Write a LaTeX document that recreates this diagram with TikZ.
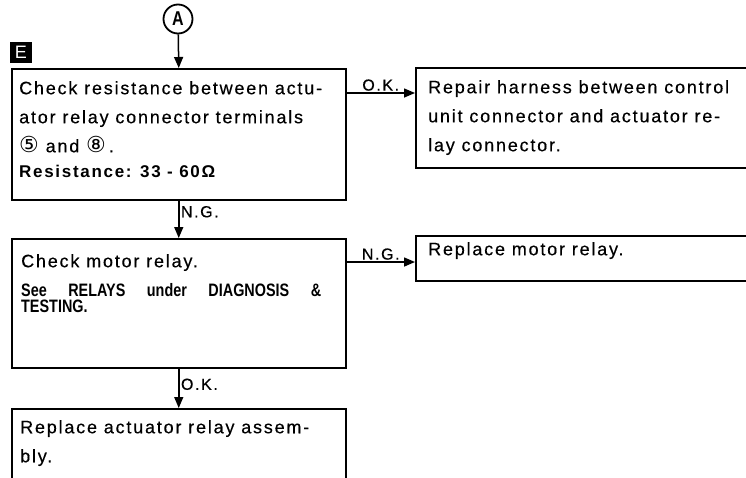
\documentclass[tikz,border=0pt]{standalone}
\usepackage{fontspec}
\usetikzlibrary{arrows.meta, positioning}
\setmainfont{Liberation Sans}
\newfontfamily\manfont[LetterSpace=10, FakeBold=0.4]{Liberation Sans}
\newfontfamily\specfont[LetterSpace=10]{Liberation Sans}
\newfontfamily\narrowfont[FakeStretch=0.8]{Liberation Sans}
\newfontfamily\symfont{DejaVu Sans}

\tikzset{
  box/.style={draw, line width=1.5pt, inner sep=0pt, anchor=north west},
  txt/.style={inner sep=0pt, align=left, font=\manfont\fontsize{18}{29}\selectfont},
  lbl/.style={inner sep=1.5pt, font=\manfont\fontsize{16}{18}\selectfont},
  arr/.style={line width=1.5pt, -{Triangle[length=11pt,width=9pt]}},
}

\begin{document}
\begin{tikzpicture}[x=1pt, y=-1pt]
  \clip (0,0) rectangle (746,477);
  \useasboundingbox (0,0) rectangle (746,477);

  % start mark and step letter
  \node[circle, draw, line width=1.8pt, minimum size=29pt, inner sep=0pt,
        font=\narrowfont\bfseries\fontsize{20}{20}\selectfont] (A) at (178,19) {A};
  \node[fill=black, text=white, minimum width=22pt, minimum height=21pt, inner sep=0pt,
        font=\fontsize{18}{18}\selectfont] (E) at (21,52) {E};

  % boxes
  \node[box, minimum width=334pt, minimum height=131pt] (chk1) at (11,68) {};
  \node[box, minimum width=345pt, minimum height=100pt] (rep1) at (415,67) {};
  \node[box, minimum width=334pt, minimum height=129pt] (motor) at (11,238) {};
  \node[box, minimum width=345pt, minimum height=45pt] (rmot) at (415,235) {};
  \node[box, minimum width=334pt, minimum height=100pt] (ract) at (11,408) {};

  % texts
  \node[txt, below right=13pt and 8pt of chk1.north west] (chk1txt)
    {Check resistance between actu-\\
     ator relay connector terminals\\
     {\symfont\fontsize{22}{22}\selectfont ⑤} and {\symfont\fontsize{22}{22}\selectfont ⑧}\,.\\[-4pt]
     {\specfont\bfseries\fontsize{17}{20}\selectfont Resistance: 33 - 60Ω}};
  \node[txt, below right=13pt and 13pt of rep1.north west] (rep1txt)
    {Repair harness between control\\
     unit connector and actuator re-\\
     lay connector.};
  \node[txt, below right=16pt and 10pt of motor.north west] (motortxt)
    {Check motor relay.\\
     \parbox[t]{300pt}{\narrowfont\bfseries\fontsize{18}{16}\selectfont
       \makebox[300pt][s]{See RELAYS under DIAGNOSIS \&}\\TESTING.}};
  \node[txt, below right=7pt and 13pt of rmot.north west] (rmottxt)
    {Replace motor relay.};
  \node[txt, below right=12pt and 9pt of ract.north west] (racttxt)
    {Replace actuator relay assem-\\
     bly.};

  % connectors
  \coordinate (okR) at ([yshift=-25pt]chk1.north east);
  \coordinate (ngR) at ([yshift=-24pt]motor.north east);
  \draw[arr] (A) -- (chk1.north);
  \draw[arr] (okR) -- (okR -| rep1.west) node[lbl, above, midway] {O.K.};
  \draw[arr] (chk1.south) -- (motor.north) node[lbl, right, pos=0.3] {N.G.};
  \draw[arr] (ngR) -- (ngR -| rmot.west) node[lbl, above, midway] {N.G.};
  \draw[arr] (motor.south) -- (ract.north) node[lbl, right, pos=0.4] {O.K.};
\end{tikzpicture}
\end{document}
